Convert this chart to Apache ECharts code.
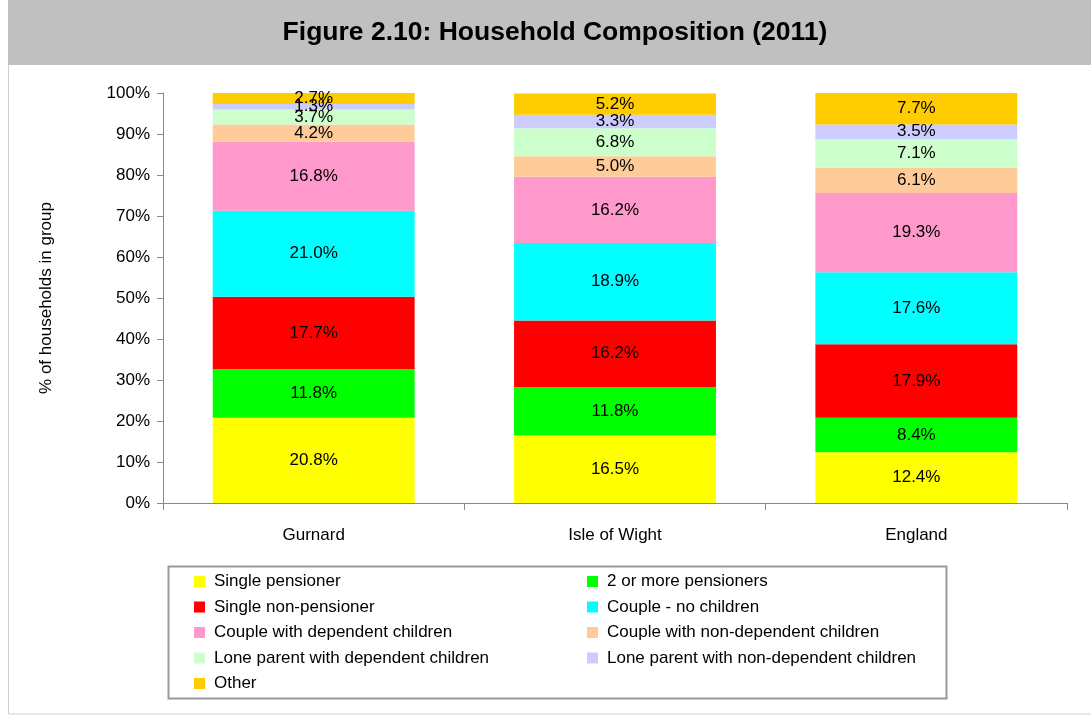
<!DOCTYPE html>
<html>
<head>
<meta charset="utf-8">
<script src="https://cdn.jsdelivr.net/npm/echarts@6/dist/echarts.min.js"></script>
<style>
  html, body { margin: 0; padding: 0; background: #fff; }
  #main { width: 1091px; height: 715px; }
</style>
</head>
<body>
<div id="main"></div>
<script>
// categories and series values (% of households)
var areas = ['Gurnard', 'Isle of Wight', 'England'];
var seriesNames = [
    'Single pensioner', '2 or more pensioners', 'Single non-pensioner', 'Couple - no children',
    'Couple with dependent children', 'Couple with non-dependent children',
    'Lone parent with dependent children', 'Lone parent with non-dependent children', 'Other'
];
var singlePensioner = [20.8, 16.5, 12.4];
var twoPensioners = [11.8, 11.8, 8.4];
var singleNonPensioner = [17.7, 16.2, 17.9];
var coupleNoChildren = [21.0, 18.9, 17.6];
var coupleDependent = [16.8, 16.2, 19.3];
var coupleNonDependent = [4.2, 5.0, 6.1];
var loneDependent = [3.7, 6.8, 7.1];
var loneNonDependent = [1.3, 3.3, 3.5];
var other = [2.7, 5.2, 7.7];

var colors = ['#FFFF00', '#00FF00', '#FF0000', '#00FFFF', '#FF99CC', '#FFCC99', '#CCFFCC', '#CCCCFF', '#FFCC00'];
var values = [singlePensioner, twoPensioners, singleNonPensioner, coupleNoChildren,
    coupleDependent, coupleNonDependent, loneDependent, loneNonDependent, other];

var font = 'Liberation Sans, Arial, sans-serif';

var series = [];
for (var i = 0; i < seriesNames.length; i++) {
    series.push({
        name: seriesNames[i],
        type: 'bar',
        stack: 'total',
        barWidth: '67%',
        itemStyle: { color: colors[i] },
        label: {
            show: true,
            position: 'inside',
            color: '#000',
            fontFamily: font,
            fontSize: 17,
            formatter: function (p) { return p.value.toFixed(1) + '%'; }
        },
        data: values[i]
    });
}

var legendText = { fontSize: 17, color: '#000', fontFamily: font, padding: [0, 0, 0, 4] };

var chartObj = echarts.init(document.getElementById('main'));
var chartOpt = {
    animation: false,
    color: colors,
    textStyle: { fontFamily: font },
    graphic: [
        { type: 'rect', shape: { x: 8.5, y: 0, width: 1090, height: 714 }, style: { fill: 'none', stroke: '#d0d0d0', lineWidth: 1 }, z: -10 },
        { type: 'rect', shape: { x: 8, y: 0, width: 1083, height: 65 }, style: { fill: '#C0C0C0' }, z: -5 },
        { type: 'rect', shape: { x: 168.5, y: 566.5, width: 778, height: 132 }, style: { fill: '#fff', stroke: '#999', lineWidth: 2 }, z: -1 },
        { type: 'text', x: 555, y: 33, style: { text: 'Figure 2.10: Household Composition (2011)', font: 'bold 26.5px ' + font, fill: '#000', align: 'center', verticalAlign: 'middle' } }
    ],
    legend: [{
        orient: 'vertical',
        left: 189, top: 568,
        itemWidth: 11, itemHeight: 11,
        itemGap: 8.5,
        icon: 'rect',
        textStyle: legendText,
        data: [seriesNames[0], seriesNames[2], seriesNames[4], seriesNames[6], seriesNames[8]]
    }, {
        orient: 'vertical',
        left: 582, top: 568,
        itemWidth: 11, itemHeight: 11,
        itemGap: 8.5,
        icon: 'rect',
        textStyle: legendText,
        data: [seriesNames[1], seriesNames[3], seriesNames[5], seriesNames[7]]
    }],
    grid: { left: 163, right: 24, top: 93, bottom: 212, containLabel: false },
    xAxis: {
        type: 'category',
        data: areas,
        axisLine: { lineStyle: { color: '#888' } },
        axisTick: { show: true, length: 7, lineStyle: { color: '#888' } },
        axisLabel: { color: '#000', fontSize: 17, margin: 24 }
    },
    yAxis: {
        type: 'value',
        min: 0, max: 100, interval: 10,
        name: '% of households in group',
        nameLocation: 'middle',
        nameGap: 108,
        nameTextStyle: { fontSize: 17, color: '#000' },
        axisLine: { show: true, lineStyle: { color: '#888' } },
        axisTick: { show: true, inside: false, length: 6, lineStyle: { color: '#888' } },
        splitLine: { show: false },
        axisLabel: { color: '#000', fontSize: 17, margin: 13, formatter: '{value}%' }
    },
    series: series
};
chartObj.setOption(chartOpt);
</script>
</body>
</html>
